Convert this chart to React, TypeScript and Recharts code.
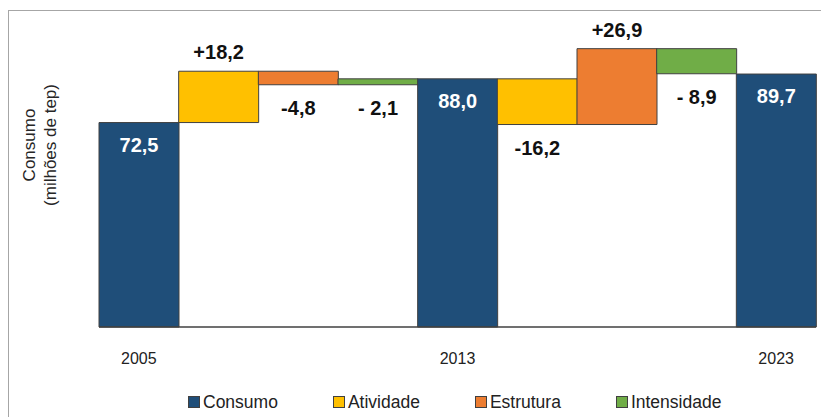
import { BarChart, Bar, XAxis, YAxis, Cell, LabelList, Legend } from "recharts";

const categories = [
  "2005",
  "Atividade",
  "Estrutura",
  "Intensidade",
  "2013",
  "Atividade",
  "Estrutura",
  "Intensidade",
  "2023",
];
const yearTicks = ["2005", "", "", "", "2013", "", "", "", "2023"];
const seriesOf = [
  "Consumo",
  "Atividade",
  "Estrutura",
  "Intensidade",
  "Consumo",
  "Atividade",
  "Estrutura",
  "Intensidade",
  "Consumo",
];
// floating waterfall bars: bottom and top of each bar as drawn
const barLow = [0, 72.5, 85.9, 85.9, 0, 71.8, 71.8, 89.8, 0];
const barHigh = [72.5, 90.7, 90.7, 88.0, 88.0, 88.0, 98.7, 98.7, 89.7];
const valueLabels = ["72,5", "+18,2", "-4,8", "- 2,1", "88,0", "-16,2", "+26,9", "- 8,9", "89,7"];
const legendNames = ["Consumo", "Atividade", "Estrutura", "Intensidade"];

const SERIES_COLORS: Record<string, string> = {
  Consumo: "#1f4e79",
  Atividade: "#ffc000",
  Estrutura: "#ed7d31",
  Intensidade: "#70ad47",
};

const FONT = '"Liberation Sans", Arial, sans-serif';
const BORDER = "#404040";

const data = categories.map((name, i) => ({
  idx: i,
  name,
  range: [barLow[i], barHigh[i]],
}));

function BarValueLabel(props: any) {
  const vb = props.viewBox || props;
  const i = props.index as number;
  const x = Number(vb.x);
  const y = Number(vb.y);
  const w = Number(vb.width);
  const h = Number(vb.height);
  const top = Math.min(y, y + h);
  const bottom = Math.max(y, y + h);
  const text = valueLabels[i];
  let ty = bottom + 23;
  let fill = "#111";
  if (barLow[i] === 0) {
    ty = top + 22;
    fill = "#ffffff";
  } else if (text.startsWith("+")) {
    ty = top - 19;
  }
  return (
    <text
      x={x + w / 2}
      y={ty}
      textAnchor="middle"
      dominantBaseline="central"
      fontFamily={FONT}
      fontSize={20}
      fontWeight="bold"
      fill={fill}
    >
      {text}
    </text>
  );
}

function YTitle(props: any) {
  const vb = props.viewBox || {};
  const cx = 39;
  const cy = Number(vb.y || 45) + 100;
  return (
    <text
      x={cx}
      y={cy}
      transform={`rotate(-90 ${cx} ${cy})`}
      textAnchor="middle"
      fontFamily={FONT}
      fontSize={17}
      fill="#262626"
    >
      <tspan x={cx} dy="-0.25em">Consumo</tspan>
      <tspan x={cx} dy="1.25em">(milhões de tep)</tspan>
    </text>
  );
}

function LegendBox() {
  return (
    <div
      style={{
        height: 30,
        display: "flex",
        alignItems: "center",
        paddingLeft: 188,
        gap: 55,
        fontFamily: FONT,
        fontSize: 17.5,
        color: "#222",
      }}
    >
      {legendNames.map((n) => (
        <div key={n} style={{ display: "flex", alignItems: "center" }}>
          <span
            style={{
              display: "inline-block",
              width: 12,
              height: 12,
              boxSizing: "border-box",
              background: SERIES_COLORS[n],
              border: `1px solid ${BORDER}`,
              marginRight: 3,
            }}
          />
          {n}
        </div>
      ))}
    </div>
  );
}

export default function App() {
  return (
    <div style={{ position: "absolute", left: 0, top: 0, width: 821, height: 417, overflow: "hidden", background: "#fff" }}>
      <div
        style={{
          position: "absolute",
          left: 8,
          top: 10,
          width: 900,
          height: 500,
          borderTop: "1px solid #a6a6a6",
          borderLeft: "1px solid #a6a6a6",
        }}
      />
      <div style={{ position: "absolute", left: 0, top: 0 }}>
        <BarChart
          width={821}
          height={417}
          data={data}
          margin={{ top: 45, right: 5, bottom: 0, left: 9 }}
          barCategoryGap={0}
          barGap={0}
        >
          <XAxis
            dataKey="idx"
            interval={0}
            tickFormatter={(i: number) => yearTicks[i]}
            tickLine={false}
            axisLine={{ stroke: BORDER, strokeWidth: 1.5 }}
            tick={{ fontSize: 16, fill: "#222", fontFamily: FONT }}
            tickMargin={20}
            height={60}
          />
          <YAxis
            domain={[0, 100]}
            width={90}
            tick={false}
            tickLine={false}
            axisLine={false}
            label={YTitle}
          />
          <Legend verticalAlign="bottom" wrapperStyle={{ left: 0, width: 821 }} content={LegendBox} />
          <Bar dataKey="range" isAnimationActive={false}>
            {data.map((d, i) => (
              <Cell key={i} fill={SERIES_COLORS[seriesOf[i]]} stroke={BORDER} strokeWidth={1} />
            ))}
            <LabelList dataKey="range" content={BarValueLabel} />
          </Bar>
        </BarChart>
      </div>
    </div>
  );
}
